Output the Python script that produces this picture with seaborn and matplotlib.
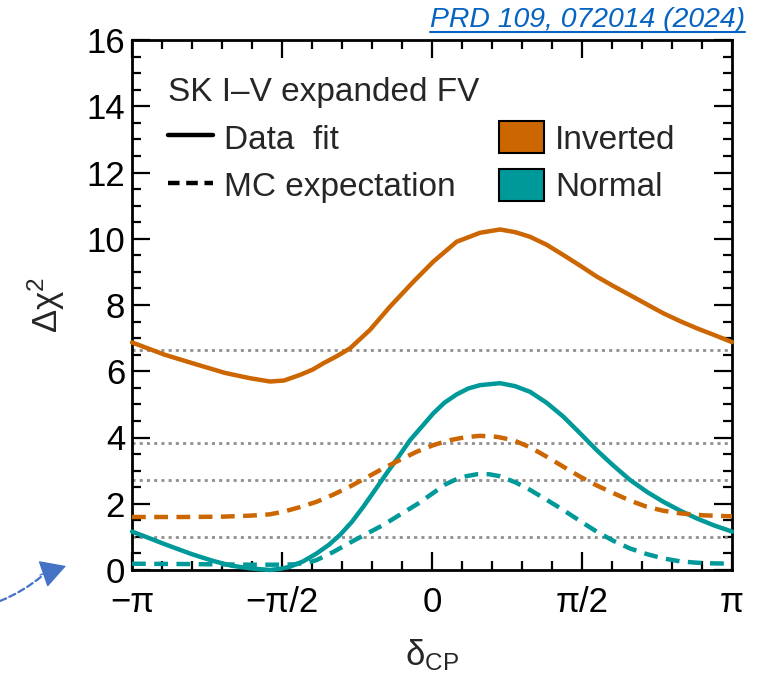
import numpy as np
import pandas as pd
import matplotlib
matplotlib.use("Agg")
import matplotlib.pyplot as plt
from matplotlib.lines import Line2D
from matplotlib.patches import Patch, FancyArrowPatch
from matplotlib.ticker import MultipleLocator, FixedLocator
import seaborn as sns

# ---------------- data ----------------
PI = np.pi
io_data_x = [-PI, -2.80, -2.517, -2.168, -1.906, -1.696, -1.55, -1.382, -1.25, -1.138,
             -1.00, -0.859, -0.649, -0.440, -0.196, 0.014, 0.258, 0.503, 0.712, 0.87,
             1.026, 1.20, 1.375, 1.55, 1.724, 1.90, 2.073, 2.25, 2.422, 2.60,
             2.771, 2.95, PI]
io_data_y = [6.87, 6.50, 6.25, 5.95, 5.79, 5.69, 5.72, 5.89, 6.05, 6.24,
             6.45, 6.69, 7.25, 7.95, 8.70, 9.31, 9.91, 10.18, 10.28, 10.20,
             10.06, 9.82, 9.51, 9.19, 8.86, 8.57, 8.30, 8.02, 7.75, 7.51,
             7.30, 7.10, 6.88]

no_data_x = [-PI, -2.95, -2.80, -2.517, -2.30, -2.10, -1.906, -1.696, -1.58, -1.487,
             -1.35, -1.208, -1.08, -0.963, -0.84, -0.719, -0.60, -0.475, -0.35, -0.230,
             -0.10, 0.014, 0.13, 0.258, 0.38, 0.503, 0.712, 0.87, 1.026, 1.20,
             1.375, 1.55, 1.724, 1.90, 2.073, 2.25, 2.422, 2.60, 2.771, 2.95, PI]
no_data_y = [1.16, 0.95, 0.78, 0.48, 0.28, 0.13, 0.05, 0.0, 0.04, 0.10,
             0.26, 0.50, 0.76, 1.06, 1.45, 1.91, 2.40, 2.92, 3.42, 3.92,
             4.35, 4.73, 5.05, 5.30, 5.48, 5.58, 5.64, 5.55, 5.38, 5.05,
             4.63, 4.13, 3.62, 3.15, 2.72, 2.36, 2.06, 1.79, 1.56, 1.35, 1.16]

io_mc_x = [-PI, -2.6, -2.2, -1.906, -1.70, -1.557, -1.38, -1.208, -1.03, -0.859,
           -0.68, -0.510, -0.33, -0.161, 0.014, 0.188, 0.35, 0.503, 0.68, 0.852,
           1.03, 1.201, 1.38, 1.550, 1.72, 1.899, 2.07, 2.248, 2.42, 2.597,
           2.85, PI]
io_mc_y = [1.60, 1.60, 1.61, 1.64, 1.68, 1.76, 1.90, 2.06, 2.28, 2.52,
           2.80, 3.07, 3.33, 3.57, 3.77, 3.92, 4.01, 4.05, 4.02, 3.92,
           3.70, 3.42, 3.11, 2.82, 2.56, 2.32, 2.10, 1.91, 1.79, 1.71,
           1.65, 1.62]

no_mc_x = [-PI, -2.6, -2.2, -1.9, -1.6, -1.45, -1.30, -1.208, -1.03, -0.85,
           -0.68, -0.51, -0.33, -0.143, 0.0, 0.136, 0.30, 0.468, 0.60, 0.712,
           0.87, 1.026, 1.20, 1.375, 1.55, 1.724, 1.90, 2.073, 2.25, 2.422,
           2.60, 2.771, 2.95, PI]
no_mc_y = [0.19, 0.18, 0.17, 0.16, 0.16, 0.17, 0.22, 0.30, 0.55, 0.84,
           1.10, 1.36, 1.68, 2.01, 2.30, 2.58, 2.80, 2.89, 2.89, 2.83,
           2.65, 2.42, 2.12, 1.81, 1.48, 1.16, 0.88, 0.65, 0.48, 0.35,
           0.26, 0.22, 0.20, 0.19]

thresholds = [1.0, 2.71, 3.84, 6.63]

xtick_vals = [-PI, -PI / 2, 0, PI / 2, PI]
xtick_labels = ["\u2212\u03c0", "\u2212\u03c0/2", "0", "\u03c0/2", "\u03c0"]
ytick_vals = [0, 2, 4, 6, 8, 10, 12, 14, 16]

legend_title = "SK I\u2013V expanded FV"
style_labels = ["Data  fit", "MC expectation"]
hier_labels = ["Inverted", "Normal"]
citation = "PRD 109, 072014 (2024)"

# ---------------- style ----------------
sns.set_style("ticks")
plt.rcParams["font.family"] = ["Liberation Sans", "DejaVu Sans"]
plt.rcParams["mathtext.fontset"] = "custom"
plt.rcParams["mathtext.rm"] = "Liberation Sans"
plt.rcParams["mathtext.it"] = "Liberation Sans:italic"

ORANGE = "#CC6600"
TEAL = "#009999"
LW = 3.2
DASH = (0, (3.1, 1.9))

fig = plt.figure(figsize=(7.69, 6.82), dpi=100)
ax = fig.add_axes([132 / 769, 112 / 682, 600 / 769, 530 / 682])

for t in thresholds:
    ax.axhline(t, color="#8f8f8f", lw=2.0, linestyle=(0, (1.1, 1.5)), zorder=1)

series = [
    (io_data_x, io_data_y, ORANGE, "-"),
    (no_data_x, no_data_y, TEAL, "-"),
    (io_mc_x, io_mc_y, ORANGE, DASH),
    (no_mc_x, no_mc_y, TEAL, DASH),
]
for xs, ys, c, ls in series:
    df = pd.DataFrame({"x": xs, "y": ys})
    sns.lineplot(data=df, x="x", y="y", ax=ax, color=c, lw=LW, linestyle=ls,
                 estimator=None, sort=True, zorder=3, clip_on=False)

ax.set_xlim(-PI, PI)
ax.set_ylim(0, 16)
ax.xaxis.set_major_locator(FixedLocator(xtick_vals))
ax.set_xticklabels(xtick_labels)
ax.xaxis.set_minor_locator(MultipleLocator(PI / 10))
ax.yaxis.set_major_locator(FixedLocator(ytick_vals))
ax.yaxis.set_minor_locator(MultipleLocator(0.5))

ax.tick_params(which="both", direction="in", top=True, right=True, width=1.6,
               colors="black", labelsize=25)
ax.tick_params(which="major", length=13)
ax.tick_params(which="minor", length=6.5)
ax.tick_params(axis="x", pad=11.5)
ax.tick_params(axis="y", pad=5)
for s in ax.spines.values():
    s.set_linewidth(2.0)
    s.set_color("black")
    s.set_visible(True)

ax.set_xlabel(r"$\mathrm{\delta_{CP}}$", fontsize=25, labelpad=13)
ax.set_ylabel(r"$\mathrm{\Delta\chi^{2}}$", fontsize=25, labelpad=14)

# legend
handles = [
    Line2D([], [], color="black", lw=LW, linestyle="-"),
    Line2D([], [], color="black", lw=LW, linestyle=(0, (2.6, 1.5))),
    Patch(facecolor=ORANGE, edgecolor="black", lw=1.5),
    Patch(facecolor=TEAL, edgecolor="black", lw=1.5),
]
leg = ax.legend(handles, style_labels + hier_labels, ncol=2, title=legend_title,
                alignment="left", loc="upper left", bbox_to_anchor=(0.06, 0.93),
                frameon=False, fontsize=24, title_fontsize=24, handlelength=1.35,
                handleheight=1.1, handletextpad=0.33, columnspacing=1.3,
                labelspacing=0.4, borderpad=0, borderaxespad=0)

# citation (top right, underlined)
ctext = fig.text(745 / 769, 1 - 27 / 682, citation, ha="right", va="baseline",
                 fontsize=20.4, style="italic", color="#0563C1")
fig.canvas.draw()
bb = ctext.get_window_extent()
fig.add_artist(Line2D([bb.x0 / fig.bbox.width, bb.x1 / fig.bbox.width],
                      [1 - 32 / 682, 1 - 32 / 682], color="#0563C1", lw=1.5,
                      transform=fig.transFigure))

# decorative dashed arrow at bottom-left
ARROW_C = "#4472C4"
fig.add_artist(FancyArrowPatch(
    (0 / 769, 1 - 601 / 682), (42 / 769, 1 - 576 / 682), transform=fig.transFigure,
    connectionstyle="arc3,rad=0.08", arrowstyle="-", shrinkA=0, shrinkB=0,
    linestyle=(0, (3, 1.6)), lw=1.6, color=ARROW_C))
fig.add_artist(FancyArrowPatch(
    (40 / 769, 1 - 575 / 682), (66 / 769, 1 - 566 / 682), transform=fig.transFigure,
    arrowstyle="-|>,head_length=16,head_width=9", mutation_scale=1,
    shrinkA=0, shrinkB=0, lw=1.0, color=ARROW_C))

fig.savefig("out.png", dpi=100)
